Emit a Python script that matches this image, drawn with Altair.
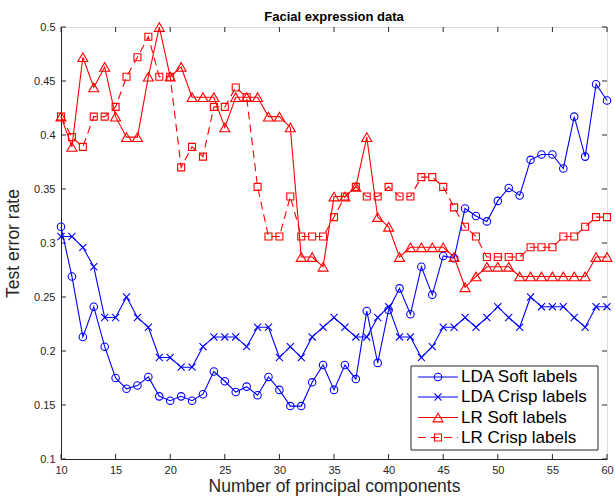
import altair as alt
import pandas as pd

# ---------------- data ----------------
components = list(range(10, 61))

lda_soft = [0.315, 0.269, 0.213, 0.241, 0.204, 0.175, 0.165, 0.168, 0.176, 0.158,
            0.154, 0.158, 0.154, 0.160, 0.181, 0.172, 0.162, 0.167, 0.159, 0.176,
            0.164, 0.149, 0.149, 0.171, 0.187, 0.164, 0.187, 0.174, 0.237, 0.189,
            0.238, 0.258, 0.234, 0.278, 0.252, 0.288, 0.286, 0.332, 0.325, 0.320,
            0.339, 0.351, 0.344, 0.377, 0.382, 0.382, 0.369, 0.417, 0.380, 0.447,
            0.432]

lda_crisp = [0.306, 0.306, 0.296, 0.278, 0.231, 0.231, 0.250, 0.231, 0.222, 0.194,
             0.194, 0.185, 0.185, 0.204, 0.213, 0.213, 0.213, 0.204, 0.222, 0.222,
             0.194, 0.204, 0.194, 0.213, 0.222, 0.231, 0.222, 0.213, 0.213, 0.231,
             0.241, 0.213, 0.213, 0.194, 0.204, 0.222, 0.222, 0.231, 0.222, 0.231,
             0.241, 0.231, 0.222, 0.250, 0.241, 0.241, 0.241, 0.231, 0.222, 0.241,
             0.241]

lr_soft = [0.417, 0.389, 0.472, 0.444, 0.463, 0.417, 0.398, 0.398, 0.454, 0.500,
           0.454, 0.463, 0.435, 0.435, 0.435, 0.407, 0.435, 0.435, 0.435, 0.417,
           0.417, 0.407, 0.287, 0.287, 0.278, 0.343, 0.343, 0.352, 0.398, 0.324,
           0.315, 0.287, 0.296, 0.296, 0.296, 0.296, 0.287, 0.259, 0.269, 0.278,
           0.278, 0.278, 0.269, 0.269, 0.269, 0.269, 0.269, 0.269, 0.269, 0.287,
           0.287]

lr_crisp = [0.417, 0.398, 0.389, 0.417, 0.417, 0.426, 0.454, 0.472, 0.491, 0.454,
            0.454, 0.370, 0.389, 0.380, 0.426, 0.426, 0.444, 0.435, 0.352, 0.306,
            0.306, 0.343, 0.306, 0.306, 0.306, 0.324, 0.343, 0.352, 0.343, 0.343,
            0.352, 0.343, 0.343, 0.361, 0.361, 0.352, 0.333, 0.315, 0.306, 0.287,
            0.287, 0.287, 0.287, 0.296, 0.296, 0.296, 0.306, 0.306, 0.315, 0.324,
            0.324]

series_names = ["LDA Soft labels", "LDA Crisp labels", "LR Soft labels", "LR Crisp labels"]
series_values = [lda_soft, lda_crisp, lr_soft, lr_crisp]

x_ticks = [10, 15, 20, 25, 30, 35, 40, 45, 50, 55, 60]
y_ticks = [0.1, 0.15, 0.2, 0.25, 0.3, 0.35, 0.4, 0.45, 0.5]

# ---------------- styles ----------------
colors = ["#0000ff", "#0000ff", "#ff0000", "#ff0000"]
shapes = ["circle", "M-1,-1L1,1M-1,1L1,-1", "triangle-up", "square"]
sizes = [56, 50, 100, 49]
dashes = [None, None, None, [8, 5]]

W, H = 546, 432
AX = "#262626"
FONT = "Liberation Sans"

xs = alt.Scale(domain=[10, 60], nice=False, zero=False)
ys = alt.Scale(domain=[0.1, 0.5], nice=False, zero=False)

xaxis = alt.Axis(values=x_ticks, format="d", title="Number of principal components",
                 ticks=False, tickSize=0, grid=False, labelFlush=False, labelOverlap=False,
                 labelPadding=5, labelFontSize=11, labelColor=AX, labelFont=FONT,
                 titleFont=FONT, titleFontSize=17.5, titleFontWeight="normal",
                 titleColor=AX, titlePadding=2, domainColor=AX, domainWidth=1)
yaxis = alt.Axis(values=y_ticks, format=".2~f", title="Test error rate",
                 ticks=False, tickSize=0, grid=False, labelFlush=False, labelOverlap=False,
                 labelPadding=6, labelFontSize=11, labelColor=AX, labelFont=FONT,
                 titleFont=FONT, titleFontSize=17.5, titleFontWeight="normal",
                 titleColor=AX, titlePadding=11, domainColor=AX, domainWidth=1)

X = alt.X("x:Q", scale=xs, axis=xaxis)
Y = alt.Y("y:Q", scale=ys, axis=yaxis)

layers = []

# inward tick marks (MATLAB style box)
xt = pd.DataFrame({"x": x_ticks})
yt = pd.DataFrame({"y": y_ticks})
layers.append(alt.Chart(xt).mark_rule(color=AX, strokeWidth=1).encode(
    x=X, y=alt.value(H), y2=alt.value(H - 5)))
layers.append(alt.Chart(xt).mark_rule(color=AX, strokeWidth=1).encode(
    x=X, y=alt.value(0), y2=alt.value(5)))
layers.append(alt.Chart(yt).mark_rule(color=AX, strokeWidth=1).encode(
    y=Y, x=alt.value(0), x2=alt.value(5)))
layers.append(alt.Chart(yt).mark_rule(color=AX, strokeWidth=1).encode(
    y=Y, x=alt.value(W), x2=alt.value(W - 5)))

# series lines and markers
for name, vals, col, shp, sz, dsh in zip(series_names, series_values, colors, shapes, sizes, dashes):
    df = pd.DataFrame({"x": components, "y": vals, "series": name})
    line_kw = dict(color=col, strokeWidth=1.1)
    if dsh is not None:
        line_kw["strokeDash"] = dsh
    layers.append(alt.Chart(df).mark_line(**line_kw).encode(x=X, y=Y))
    layers.append(alt.Chart(df).mark_point(shape=shp, size=sz, color=col, filled=False,
                                           strokeWidth=1.1, opacity=1).encode(x=X, y=Y))

# legend (drawn inside the plot, lower right)
box = pd.DataFrame({"k": [0]})
layers.append(alt.Chart(box).mark_rect(fill="white", stroke=AX, strokeWidth=1).encode(
    x=alt.value(350), x2=alt.value(537), y=alt.value(339), y2=alt.value(423)))
leg_y = [350, 370, 390.5, 410.5]
for name, col, shp, sz, dsh, yy in zip(series_names, colors, shapes, sizes, dashes, leg_y):
    d = pd.DataFrame({"series": [name]})
    rk = dict(color=col, strokeWidth=1.1)
    if dsh is not None:
        rk["strokeDash"] = dsh
    layers.append(alt.Chart(d).mark_rule(**rk).encode(
        x=alt.value(357), x2=alt.value(397), y=alt.value(yy)))
    layers.append(alt.Chart(d).mark_point(shape=shp, size=sz, color=col, filled=False,
                                          strokeWidth=1.1, opacity=1).encode(
        x=alt.value(377), y=alt.value(yy)))
    layers.append(alt.Chart(d).mark_text(align="left", baseline="middle", font=FONT,
                                         fontSize=17, color="#000000").encode(
        x=alt.value(400), y=alt.value(yy), text="series:N"))

chart = alt.layer(*layers).properties(
    width=W, height=H,
    title=alt.TitleParams("Facial expression data", font=FONT, fontSize=13,
                          fontWeight="bold", color="#000000", anchor="middle",
                          frame="group", offset=2, dy=16, baseline="alphabetic"),
    padding={"left": 61, "top": 27, "right": 8, "bottom": 39},
    autosize=alt.AutoSizeParams(type="none"),
).configure_view(stroke=AX, strokeWidth=1).configure(background="white")

chart.save("out.html", embed_options={"renderer": "svg", "actions": False})
